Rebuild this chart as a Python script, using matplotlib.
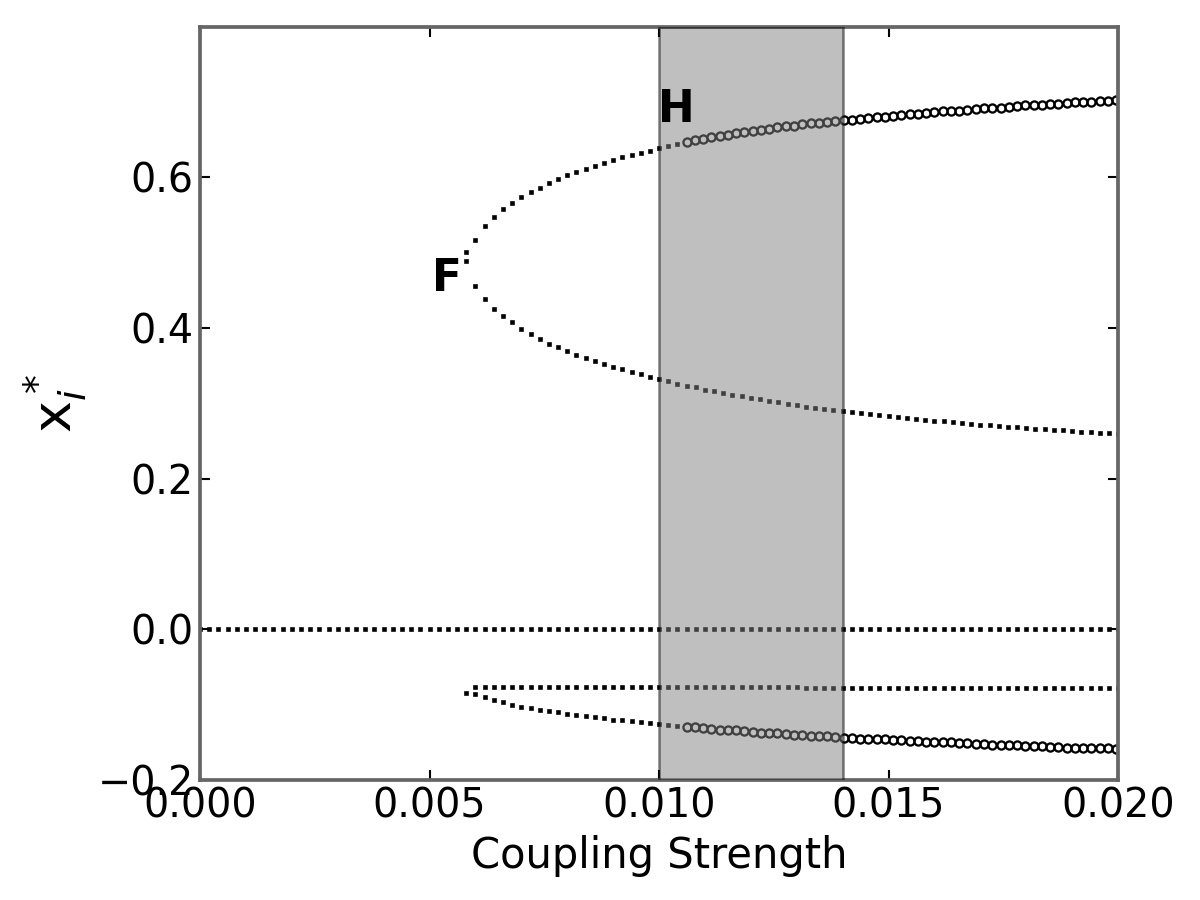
import matplotlib
matplotlib.use('Agg')
import matplotlib.pyplot as plt
from matplotlib.ticker import FuncFormatter

plt.rcParams['font.family'] = ['DejaVu Sans']
plt.rcParams['mathtext.fontset'] = 'dejavusans'

# parameter sweep (coupling strength), step 0.0002
coupling = [0.0000, 0.0002, 0.0004, 0.0006, 0.0008, 0.0010, 0.0012, 0.0014, 0.0016, 0.0018,
            0.0020, 0.0022, 0.0024, 0.0026, 0.0028, 0.0030, 0.0032, 0.0034, 0.0036, 0.0038,
            0.0040, 0.0042, 0.0044, 0.0046, 0.0048, 0.0050, 0.0052, 0.0054, 0.0056, 0.0058,
            0.0060, 0.0062, 0.0064, 0.0066, 0.0068, 0.0070, 0.0072, 0.0074, 0.0076, 0.0078,
            0.0080, 0.0082, 0.0084, 0.0086, 0.0088, 0.0090, 0.0092, 0.0094, 0.0096, 0.0098,
            0.0100, 0.0102, 0.0104, 0.0106, 0.0108, 0.0110, 0.0112, 0.0114, 0.0116, 0.0118,
            0.0120, 0.0122, 0.0124, 0.0126, 0.0128, 0.0130, 0.0132, 0.0134, 0.0136, 0.0138,
            0.0140, 0.0142, 0.0144, 0.0146, 0.0148, 0.0150, 0.0152, 0.0154, 0.0156, 0.0158,
            0.0160, 0.0162, 0.0164, 0.0166, 0.0168, 0.0170, 0.0172, 0.0174, 0.0176, 0.0178,
            0.0180, 0.0182, 0.0184, 0.0186, 0.0188, 0.0190, 0.0192, 0.0194, 0.0196, 0.0198,
            0.0200]

# trivial fixed point
zero_branch = [0.0] * 101

# upper fold, upper branch (unstable part, 0.0058 .. 0.0104)
upper_hi_unstable = [0.501, 0.517, 0.535, 0.547, 0.557, 0.566, 0.573, 0.580, 0.586, 0.592,
                     0.598, 0.603, 0.607, 0.611, 0.615, 0.619, 0.622, 0.626, 0.629, 0.632,
                     0.635, 0.638, 0.641, 0.644]

# upper fold, lower branch (0.0058 .. 0.0200)
upper_lo = [0.488, 0.456, 0.438, 0.425, 0.415, 0.407, 0.399, 0.392, 0.385, 0.379,
            0.374, 0.369, 0.364, 0.360, 0.356, 0.352, 0.348, 0.345, 0.341, 0.338,
            0.335, 0.332, 0.329, 0.326, 0.323, 0.321, 0.318, 0.316, 0.313, 0.311,
            0.309, 0.307, 0.305, 0.303, 0.301, 0.299, 0.297, 0.295, 0.2935, 0.292,
            0.2905, 0.289, 0.2877, 0.2864, 0.2851, 0.2838, 0.2826, 0.2814, 0.2802, 0.279,
            0.2779, 0.2768, 0.2757, 0.2746, 0.2736, 0.2726, 0.2716, 0.2706, 0.2697, 0.2688,
            0.2679, 0.267, 0.2662, 0.2654, 0.2646, 0.2638, 0.263, 0.2623, 0.2616, 0.2609,
            0.2602, 0.2595]

# lower fold, upper branch (0.0060 .. 0.0200)
lower_hi = [-0.0760, -0.0760, -0.0760, -0.0760, -0.0760, -0.0760, -0.0760, -0.0760, -0.0760, -0.0760,
            -0.0760, -0.0760, -0.0765, -0.0765, -0.0765, -0.0765, -0.0765, -0.0765, -0.0765, -0.0765,
            -0.0765, -0.0765, -0.0765, -0.0765, -0.0770, -0.0770, -0.0770, -0.0770, -0.0770, -0.0770,
            -0.0770, -0.0770, -0.0770, -0.0770, -0.0770, -0.0770, -0.0775, -0.0775, -0.0775, -0.0775,
            -0.0775, -0.0775, -0.0775, -0.0775, -0.0775, -0.0775, -0.0775, -0.0775, -0.0780, -0.0780,
            -0.0780, -0.0780, -0.0780, -0.0780, -0.0780, -0.0780, -0.0780, -0.0780, -0.0780, -0.0780,
            -0.0785, -0.0785, -0.0785, -0.0785, -0.0785, -0.0785, -0.0785, -0.0785, -0.0785, -0.0785,
            -0.0785]

# lower fold, lower branch (unstable part, 0.0058 .. 0.0104)
lower_lo_unstable = [-0.084, -0.086, -0.090, -0.094, -0.097, -0.100, -0.1025, -0.1045, -0.1065, -0.1085,
                     -0.1103, -0.112, -0.1137, -0.1153, -0.1168, -0.1183, -0.1197, -0.121, -0.1223, -0.1235,
                     -0.1247, -0.1258, -0.1269, -0.128]

# stable solutions (open circles)
coupling_stable = [0.01060, 0.01078, 0.01096, 0.01114, 0.01132, 0.01150, 0.01168, 0.01186, 0.01204, 0.01222,
                   0.01240, 0.01258, 0.01276, 0.01294, 0.01312, 0.01330, 0.01348, 0.01366, 0.01384, 0.01402,
                   0.01420, 0.01438, 0.01456, 0.01474, 0.01492, 0.01510, 0.01528, 0.01546, 0.01564, 0.01582,
                   0.01600, 0.01618, 0.01636, 0.01654, 0.01672, 0.01690, 0.01708, 0.01726, 0.01744, 0.01762,
                   0.01780, 0.01798, 0.01816, 0.01834, 0.01852, 0.01870, 0.01888, 0.01906, 0.01924, 0.01942,
                   0.01960, 0.01978, 0.01996]
upper_hi_stable = [0.647, 0.649, 0.651, 0.653, 0.655, 0.656, 0.658, 0.660, 0.661, 0.663,
                   0.664, 0.666, 0.667, 0.668, 0.670, 0.671, 0.672, 0.673, 0.674, 0.675,
                   0.676, 0.677, 0.678, 0.679, 0.680, 0.681, 0.682, 0.683, 0.684, 0.685,
                   0.686, 0.687, 0.688, 0.688, 0.689, 0.690, 0.691, 0.691, 0.692, 0.693,
                   0.694, 0.695, 0.695, 0.696, 0.697, 0.697, 0.698, 0.699, 0.699, 0.700,
                   0.701, 0.701, 0.702]
lower_lo_stable = [-0.129, -0.130, -0.131, -0.132, -0.133, -0.134, -0.134, -0.135, -0.136, -0.137,
                   -0.137, -0.138, -0.139, -0.140, -0.140, -0.141, -0.142, -0.142, -0.143, -0.144,
                   -0.144, -0.145, -0.145, -0.146, -0.146, -0.147, -0.147, -0.148, -0.148, -0.149,
                   -0.149, -0.150, -0.150, -0.151, -0.151, -0.152, -0.152, -0.153, -0.153, -0.154,
                   -0.154, -0.155, -0.155, -0.155, -0.156, -0.156, -0.157, -0.157, -0.157, -0.158,
                   -0.158, -0.158, -0.159]

fold_x = coupling[29:]          # 0.0058 .. 0.0200
fold_x_short = coupling[29:53]  # 0.0058 .. 0.0104
fold_x_hi = coupling[30:]       # 0.0060 .. 0.0200

fig, ax = plt.subplots(figsize=(8, 6), dpi=150)
fig.subplots_adjust(left=0.1667, right=0.9317, top=0.97, bottom=0.1333)

dot = dict(ls='none', marker='s', ms=1.9, mfc='k', mec='k', mew=0.3)
circ = dict(ls='none', marker='o', ms=3.9, mfc='none', mec='k', mew=1.1)

ax.plot(coupling, zero_branch, **dot)
ax.plot(fold_x_short, upper_hi_unstable, **dot)
ax.plot(fold_x, upper_lo, **dot)
ax.plot(fold_x_hi, lower_hi, **dot)
ax.plot(fold_x_short, lower_lo_unstable, **dot)
ax.plot(coupling_stable, upper_hi_stable, **circ)
ax.plot(coupling_stable, lower_lo_stable, **circ)

ax.axvspan(0.010, 0.014, facecolor='0.5', edgecolor='k', lw=1.2, alpha=0.5, zorder=3)

ax.text(0.00538, 0.465, 'F', fontsize=21, fontweight='bold', ha='center', va='center', zorder=4)
ax.text(0.01037, 0.689, 'H', fontsize=21, fontweight='bold', ha='center', va='center', zorder=4)

ax.set_xlim(0, 0.02)
ax.set_ylim(-0.2, 0.799)
ax.set_xticks([0.0, 0.005, 0.010, 0.015, 0.020])
ax.set_yticks([-0.2, 0.0, 0.2, 0.4, 0.6])
ax.xaxis.set_major_formatter(FuncFormatter(lambda v, p: '%.3f' % v))
ax.yaxis.set_major_formatter(FuncFormatter(lambda v, p: ('%.1f' % v).replace('-', '\u2212')))
ax.tick_params(direction='in', top=True, right=True, length=5, width=1, labelsize=19, pad=3)
for s in ax.spines.values():
    s.set_color('0.4')
    s.set_linewidth(1.8)

ax.set_xlabel('Coupling Strength', fontsize=20, labelpad=4)
ax.set_ylabel(r'$\mathrm{x}_i^*$', fontsize=26, labelpad=4)

fig.savefig('out.png', dpi=150)
